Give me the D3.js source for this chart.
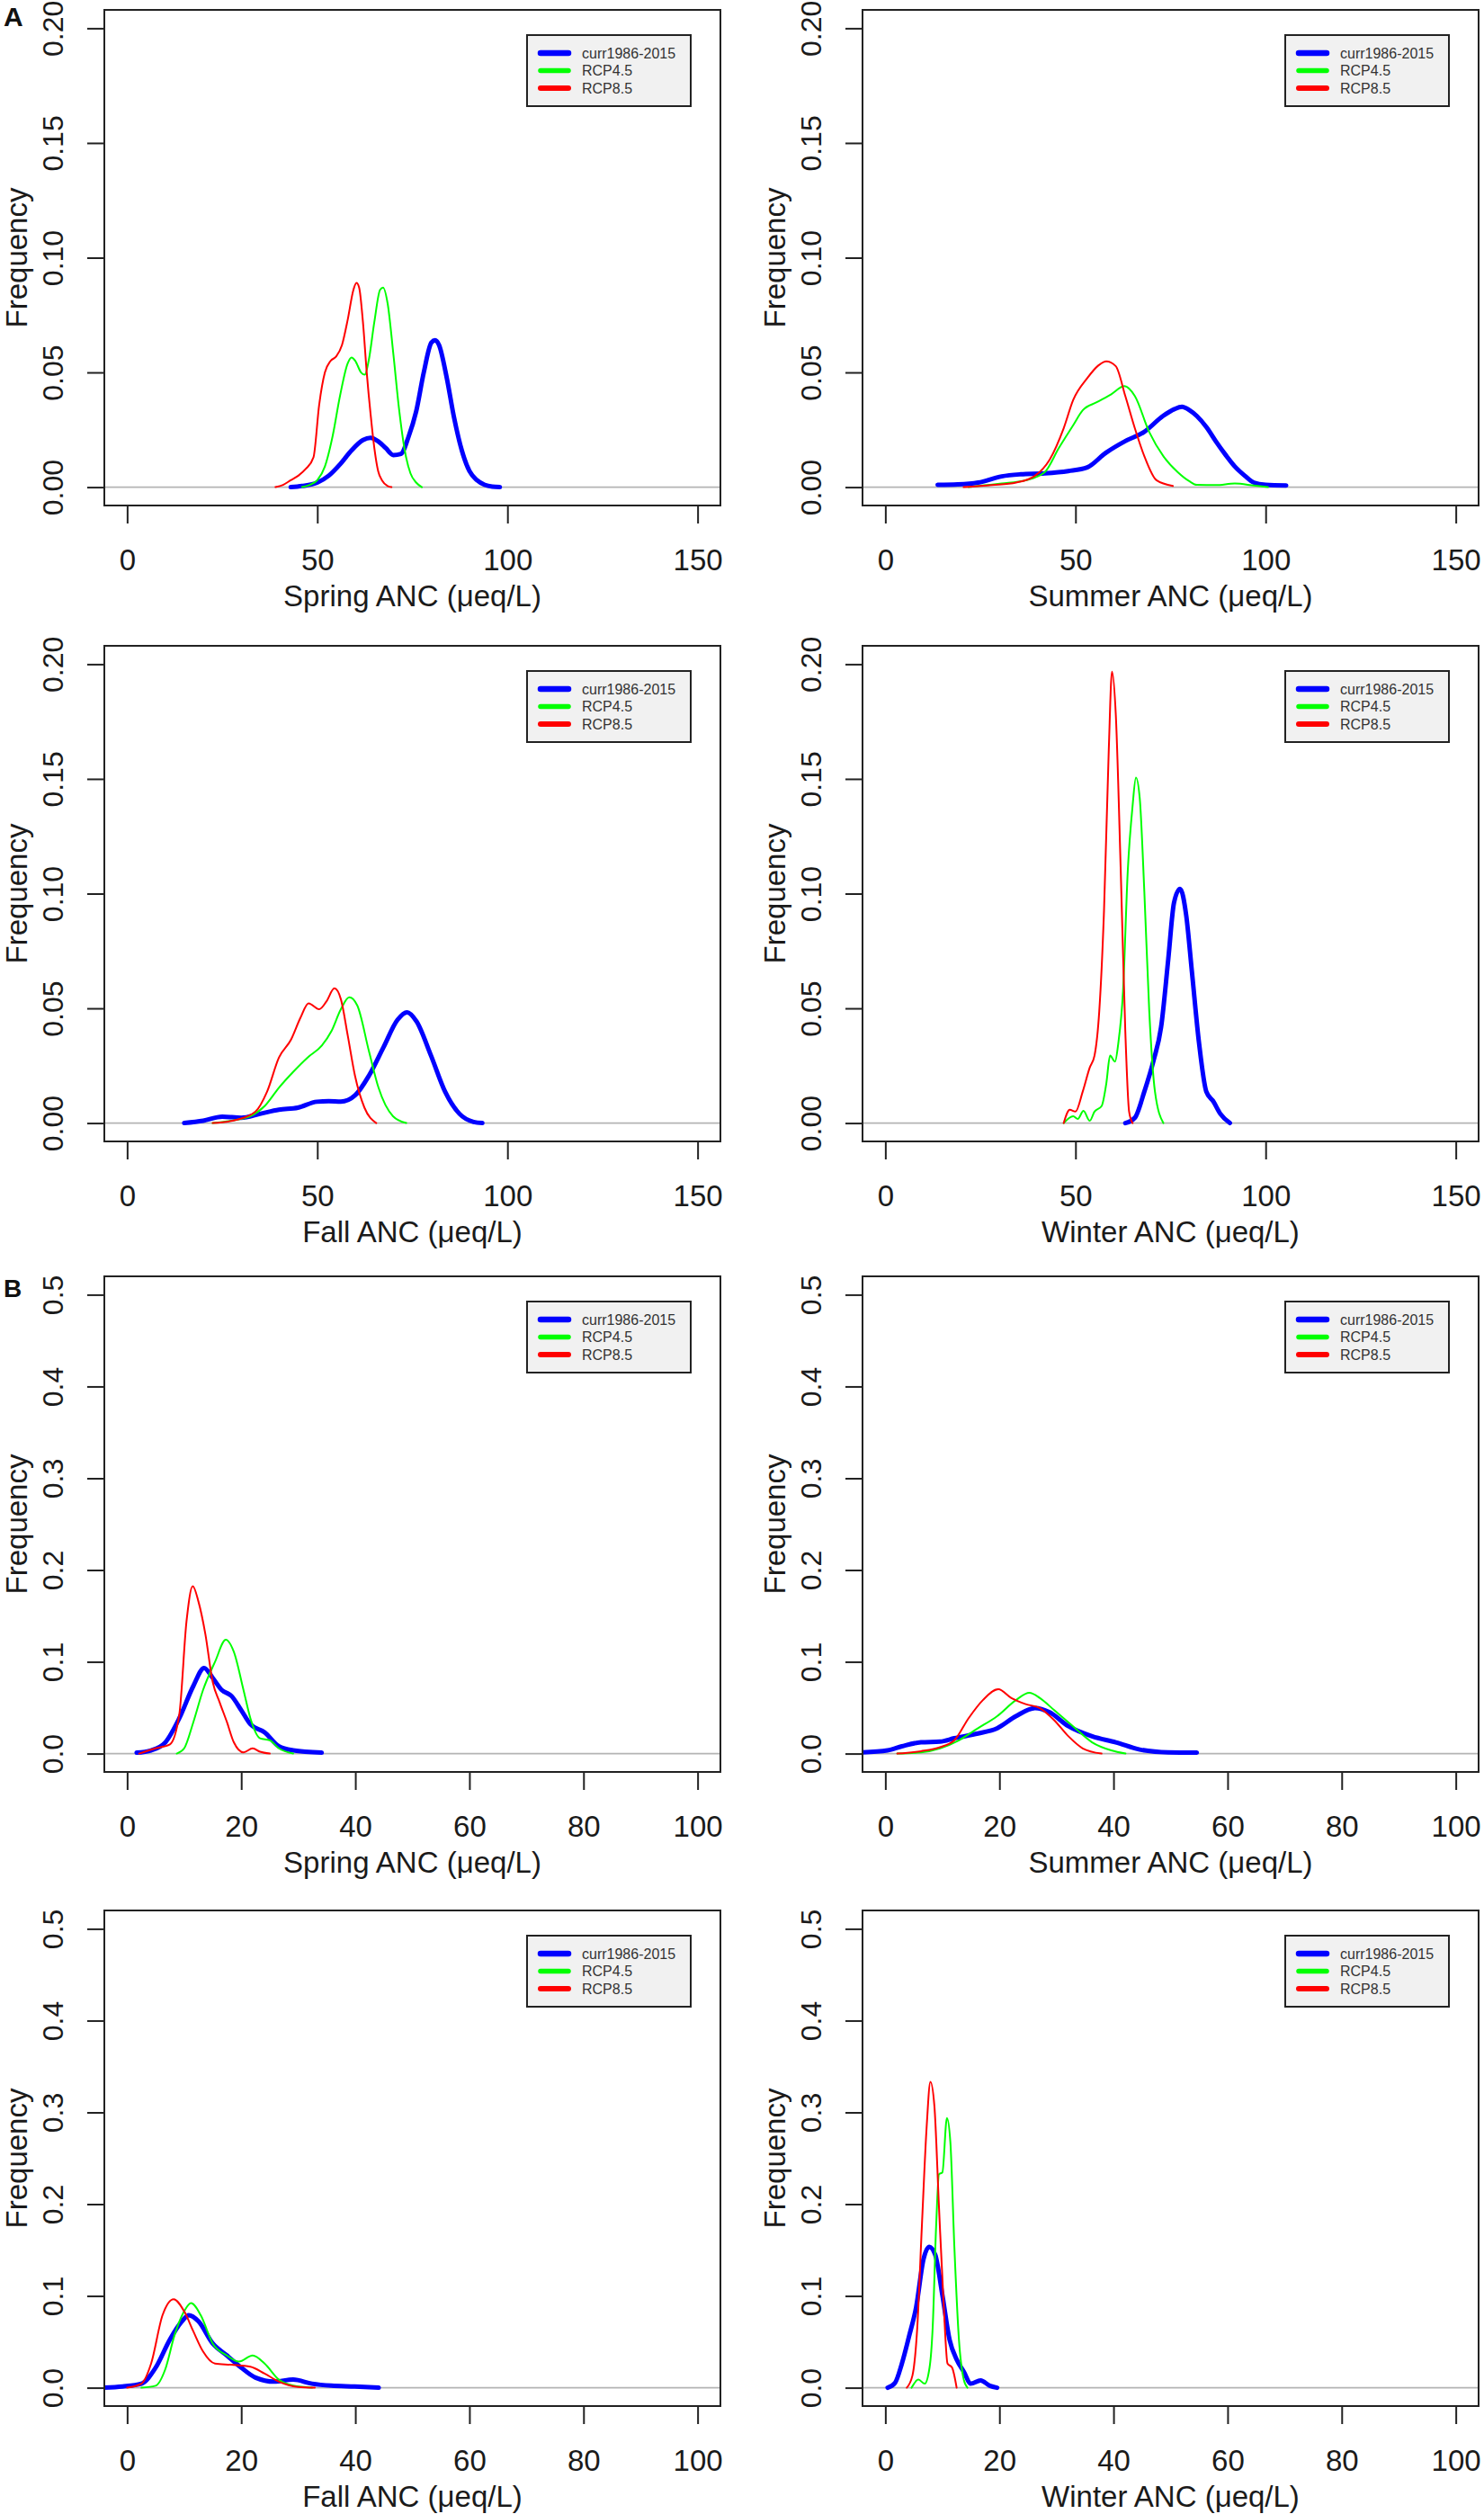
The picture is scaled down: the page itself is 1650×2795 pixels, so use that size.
<!DOCTYPE html>
<html><head><meta charset="utf-8">
<script src="https://cdn.jsdelivr.net/npm/d3@7"></script>
<style>
html,body{margin:0;padding:0;background:#fff;}
svg text{font-family:"Liberation Sans",Arial,Helvetica,sans-serif;}
</style></head>
<body>
<svg id="chart" width="1650" height="2795"></svg>
<script>
// ---------- data (x = ANC µeq/L, y = frequency / density) ----------
const seriesNames = ["curr1986-2015", "RCP4.5", "RCP8.5"];
const seriesColors = ["#0000ff", "#00ff00", "#ff0000"];

const xTicksA = [0, 50, 100, 150];
const yTicksA = [0.00, 0.05, 0.10, 0.15, 0.20];
const xTicksB = [0, 20, 40, 60, 80, 100];
const yTicksB = [0.0, 0.1, 0.2, 0.3, 0.4, 0.5];

const springA_curr = [[43,0],[46,0.0005],[50,0.002],[53,0.005],[56,0.01],[59,0.016],[62,0.0205],[64,0.0215],[66,0.020],[68,0.017],[70,0.014],[72,0.0145],[74,0.022],[76,0.033],[78,0.050],[80,0.063],[81,0.064],[82,0.062],[84,0.048],[86,0.030],[88,0.016],[90,0.007],[92,0.003],[94,0.001],[96,0.0002],[98,0]];
const springA_r45 = [[46,0],[48,0.001],[50,0.003],[52,0.009],[54,0.022],[56,0.040],[58,0.054],[59,0.0565],[60,0.055],[61.5,0.050],[62.5,0.049],[63.5,0.055],[65,0.072],[66.5,0.086],[67.3,0.087],[68.5,0.080],[70,0.058],[71.5,0.034],[73,0.016],[74.5,0.006],[76,0.002],[77.5,0]];
const springA_r85 = [[39,0],[41,0.001],[43,0.003],[45,0.005],[47,0.008],[49,0.013],[50.5,0.036],[52,0.050],[53.5,0.055],[55,0.057],[56.5,0.062],[58,0.073],[59.5,0.086],[60.3,0.089],[61,0.087],[62,0.072],[63,0.050],[64,0.032],[65,0.017],[66,0.007],[67,0.003],[68.5,0.0005],[69.5,0]];

const summerA_curr = [[13.75,0.001],[19,0.0012],[24.4,0.002],[30.6,0.0047],[35.6,0.0056],[41.9,0.006],[48.1,0.007],[53.1,0.0086],[58,0.015],[63,0.020],[68,0.024],[73,0.031],[76,0.034],[78,0.035],[80,0.0335],[81.9,0.031],[84.5,0.026],[86.9,0.020],[89.5,0.014],[91.9,0.009],[94.5,0.005],[96.9,0.002],[100,0.001],[105.4,0.0007]];
const summerA_r45 = [[21.9,0],[26,0.0008],[30.6,0.0016],[36.9,0.003],[41.9,0.0065],[45.6,0.017],[49.4,0.027],[51.9,0.0335],[55.6,0.037],[59.4,0.0405],[62.9,0.044],[65.6,0.0397],[69.4,0.024],[73.1,0.0135],[76.9,0.0065],[80,0.0025],[81.9,0.001],[86.9,0.0009],[91.9,0.0016],[96.9,0.0007],[100.6,0]];
const summerA_r85 = [[20.6,0],[28.1,0.0009],[34.4,0.002],[39.4,0.005],[43.1,0.0117],[46.9,0.0257],[49.4,0.038],[53.1,0.0475],[56,0.053],[58.1,0.0548],[60.6,0.0527],[63.1,0.0397],[65.6,0.0257],[68.1,0.0135],[71.3,0.003],[75.6,0.0005]];

const fallA_curr = [[15,0],[20,0.001],[25,0.0028],[30,0.0023],[34.9,0.004],[39.9,0.0058],[44.9,0.0067],[49.9,0.0093],[53,0.0095],[56.2,0.0093],[59.9,0.012],[63.6,0.0207],[67.4,0.033],[71.1,0.045],[73.6,0.0483],[76.1,0.0443],[79.9,0.0294],[83.6,0.0137],[87.4,0.004],[91.1,0.0005],[93.4,0]];
const fallA_r45 = [[22.5,0],[28.7,0.0014],[32.4,0.003],[36.2,0.0075],[39.9,0.0154],[43.7,0.0224],[47.4,0.0285],[51.2,0.0338],[53.7,0.040],[56.2,0.0496],[58.4,0.0548],[60.5,0.0513],[63.6,0.0312],[66.1,0.0154],[69.9,0.003],[73.4,0]];
const fallA_r85 = [[22.5,0],[28.7,0.0014],[33.7,0.0049],[36.8,0.0137],[39.9,0.0285],[43.1,0.0364],[45.6,0.046],[47.7,0.0522],[50.5,0.0496],[52.4,0.053],[54.5,0.0587],[56.2,0.054],[58,0.0382],[59.9,0.0207],[62.4,0.0067],[65.5,0]];

const winterA_curr = [[63.1,0],[65.6,0.0023],[68.1,0.0137],[70.6,0.0277],[72.5,0.0417],[74.4,0.0715],[75.9,0.096],[77.5,0.1021],[79.1,0.0907],[80.6,0.0662],[82.5,0.0347],[84.4,0.0137],[86.3,0.0093],[88.1,0.004],[90.6,0]];
const winterA_r45 = [[46.9,0],[49.4,0.003],[50.6,0.0018],[52.1,0.0053],[53.75,0.001],[55,0.005],[56.9,0.0075],[58.1,0.0172],[59.1,0.0294],[60.4,0.0268],[61.25,0.0347],[62.5,0.0574],[63.75,0.110],[65,0.138],[65.9,0.1506],[66.9,0.1415],[68.1,0.101],[69.4,0.0487],[70.9,0.0137],[73.1,0]];
const winterA_r85 = [[46.9,0],[48.5,0.0058],[50,0.005],[51.9,0.0137],[53.75,0.0242],[55,0.0294],[56.25,0.0487],[57.5,0.0925],[58.75,0.1625],[59.6,0.1967],[60.6,0.178],[61.9,0.110],[63.1,0.040],[64.1,0.005],[65,0]];

const springB_curr = [[1.66,0.001],[4.2,0.0035],[6.7,0.0123],[9.15,0.0386],[11.6,0.0736],[13.5,0.0933],[15,0.0824],[16.6,0.0692],[18.3,0.0627],[20,0.0473],[21.6,0.032],[24.1,0.0232],[26.6,0.0079],[29.1,0.0035],[34.1,0.001]];
const springB_r45 = [[8.7,0],[10,0.0057],[11.6,0.0342],[13.3,0.0692],[15.4,0.0999],[17.3,0.124],[18.7,0.1109],[20.4,0.0692],[21.6,0.0386],[23.3,0.0167],[25,0.0145],[26.6,0.0057],[29.1,0]];
const springB_r85 = [[2.1,0],[5,0.0057],[7.5,0.01],[9.15,0.043],[10.4,0.1437],[11.5,0.1823],[12.5,0.1656],[13.7,0.1306],[15,0.078],[16.2,0.0561],[17.5,0.0342],[18.7,0.0123],[20.4,0.0013],[22,0.0057],[23.3,0.002],[25,0]];

const summerB_curr = [[-4.17,0.0013],[0.4,0.0035],[2.9,0.0079],[6.25,0.0123],[9.6,0.013],[12.1,0.0167],[16.25,0.0219],[19.6,0.0276],[22.9,0.0408],[26.25,0.0495],[28.75,0.0451],[32.1,0.0298],[36.25,0.0188],[40.4,0.0123],[44.6,0.0044],[49.6,0.0013],[54.6,0.001]];
const summerB_r45 = [[2.1,0],[6.25,0.0013],[9.6,0.0057],[12.9,0.0145],[16.25,0.0276],[19.6,0.0408],[22.9,0.0583],[25.25,0.0662],[27.1,0.0605],[29.6,0.0473],[32.9,0.0298],[36.25,0.0123],[39.6,0.0035],[42.1,0]];
const summerB_r85 = [[2.1,0],[6.25,0.0026],[9.6,0.007],[12.1,0.0145],[14.6,0.0386],[17.1,0.0583],[19.8,0.0701],[22.1,0.0605],[24.6,0.0539],[27.1,0.0495],[29.6,0.0364],[32.1,0.0188],[34.6,0.0057],[37.9,0]];

const fallB_curr = [[-4.16,0],[-0.8,0.0013],[2.5,0.0044],[5,0.0219],[7.5,0.0526],[9.6,0.0724],[10.8,0.079],[12.5,0.0724],[15,0.0482],[17.5,0.0351],[20,0.0219],[22.5,0.011],[25.8,0.0066],[29.1,0.0088],[32.4,0.0044],[35.8,0.0022],[39.9,0.0013],[44.1,0]];
const fallB_r45 = [[2.5,0],[5,0.0022],[6.66,0.0197],[8.3,0.057],[10,0.0833],[11.2,0.0921],[12.9,0.079],[15,0.0482],[17.5,0.0351],[19.6,0.0285],[22,0.0351],[24.1,0.0263],[26.6,0.0088],[29.1,0.0022],[32.4,0]];
const fallB_r85 = [[0,0],[2.5,0.0044],[4.2,0.0263],[6.2,0.079],[8.15,0.0965],[10,0.0833],[11.6,0.0614],[13.3,0.0395],[15.4,0.0263],[18.3,0.025],[21.6,0.0228],[24.1,0.0154],[26.6,0.0066],[29.95,0.0009],[32.9,0]];

const winterB_curr = [[0.4,0],[1.7,0.0053],[2.9,0.0263],[4.2,0.057],[5.4,0.0877],[6.7,0.1404],[7.7,0.1535],[8.75,0.1447],[10,0.1009],[11.25,0.0526],[12.5,0.0307],[13.75,0.0175],[15,0.0044],[16.7,0.0079],[18.3,0.0022],[19.6,0]];
const winterB_r45 = [[4.6,0],[5.8,0.0088],[6.9,0.0044],[7.75,0.0219],[8.3,0.0658],[8.9,0.1754],[9.4,0.2325],[10,0.2346],[10.8,0.2939],[11.4,0.2675],[12.1,0.1535],[12.9,0.0526],[13.75,0.0088],[14.4,0]];
const winterB_r85 = [[3.75,0],[4.75,0.0132],[5.6,0.0658],[6.4,0.1754],[7.25,0.285],[7.9,0.3333],[8.6,0.307],[9.4,0.1974],[10.25,0.0877],[10.9,0.0263],[11.7,0.0219],[12.5,0]];

const panels = [
  {row:0, col:0, set:"A", label:"Spring ANC (μeq/L)", series:[springA_curr, springA_r45, springA_r85], tag:"A"},
  {row:0, col:1, set:"A", label:"Summer ANC (μeq/L)", series:[summerA_curr, summerA_r45, summerA_r85]},
  {row:1, col:0, set:"A", label:"Fall ANC (μeq/L)", series:[fallA_curr, fallA_r45, fallA_r85]},
  {row:1, col:1, set:"A", label:"Winter ANC (μeq/L)", series:[winterA_curr, winterA_r45, winterA_r85]},
  {row:2, col:0, set:"B", label:"Spring ANC (μeq/L)", series:[springB_curr, springB_r45, springB_r85], tag:"B"},
  {row:2, col:1, set:"B", label:"Summer ANC (μeq/L)", series:[summerB_curr, summerB_r45, summerB_r85]},
  {row:3, col:0, set:"B", label:"Fall ANC (μeq/L)", series:[fallB_curr, fallB_r45, fallB_r85]},
  {row:3, col:1, set:"B", label:"Winter ANC (μeq/L)", series:[winterB_curr, winterB_r45, winterB_r85]}
];

// ---------- layout ----------
const rowTops = [11, 718, 1419, 2124];
const colLefts = [116, 959];
const boxW = 685, boxH = 551;
const setCfg = {
  A: {xmax:150, ymax:0.20, xt:xTicksA, yt:yTicksA, yfmt:d3.format(".2f")},
  B: {xmax:100, ymax:0.5, xt:xTicksB, yt:yTicksB, yfmt:d3.format(".1f")}
};
const lineWidths = [5, 2, 2];
const legendLineWidths = [6.5, 5.5, 6];

const svg = d3.select("#chart");
const defs = svg.append("defs");

panels.forEach((p, i) => {
  const cfg = setCfg[p.set];
  const L = colLefts[p.col], T = rowTops[p.row];
  // R-style 4% axis extension
  const xPad = cfg.xmax * 0.04, yPad = cfg.ymax * 0.04;
  const x = d3.scaleLinear().domain([-xPad, cfg.xmax + xPad]).range([L, L + boxW]);
  const y = d3.scaleLinear().domain([-yPad, cfg.ymax + yPad]).range([T + boxH, T]);

  const g = svg.append("g");

  defs.append("clipPath").attr("id", "clip" + i)
    .append("rect").attr("x", L).attr("y", T).attr("width", boxW).attr("height", boxH);

  // zero baseline
  g.append("line")
    .attr("x1", L).attr("x2", L + boxW)
    .attr("y1", y(0)).attr("y2", y(0))
    .attr("stroke", "#b4b4b4").attr("stroke-width", 1.6);

  // density lines
  const line = d3.line().x(d => x(d[0])).y(d => y(d[1])).curve(d3.curveMonotoneX);
  const lg = g.append("g").attr("clip-path", "url(#clip" + i + ")");
  p.series.forEach((s, k) => {
    lg.append("path").datum(s)
      .attr("d", line)
      .attr("fill", "none")
      .attr("stroke", seriesColors[k])
      .attr("stroke-width", lineWidths[k])
      .attr("stroke-linejoin", "round")
      .attr("stroke-linecap", "round");
  });

  // box
  g.append("rect").attr("x", L).attr("y", T).attr("width", boxW).attr("height", boxH)
    .attr("fill", "none").attr("stroke", "#222").attr("stroke-width", 2);

  // x axis
  const xa = g.append("g").attr("transform", `translate(0,${T + boxH})`)
    .call(d3.axisBottom(x).tickValues(cfg.xt).tickSize(20).tickSizeOuter(0).tickPadding(0).tickFormat(d3.format("d")));
  xa.select(".domain").remove();
  xa.selectAll(".tick line").attr("stroke", "#222").attr("stroke-width", 2);
  xa.selectAll(".tick text")
    .attr("y", 72).attr("dy", 0)
    .attr("font-size", 33).attr("fill", "#1a1a1a")
    .attr("font-family", '"Liberation Sans",Arial,sans-serif');

  // y axis
  const ya = g.append("g").attr("transform", `translate(${L},0)`)
    .call(d3.axisLeft(y).tickValues(cfg.yt).tickSize(19).tickSizeOuter(0).tickFormat(cfg.yfmt));
  ya.select(".domain").remove();
  ya.selectAll(".tick line").attr("stroke", "#222").attr("stroke-width", 2);
  ya.selectAll(".tick text")
    .attr("x", null).attr("dy", null)
    .attr("transform", "translate(-58,0) rotate(-90)")
    .attr("text-anchor", "middle")
    .attr("y", 11.5)
    .attr("font-size", 32).attr("fill", "#1a1a1a")
    .attr("font-family", '"Liberation Sans",Arial,sans-serif');

  // axis titles
  g.append("text")
    .attr("x", x(cfg.xmax / 2)).attr("y", T + 663)
    .attr("text-anchor", "middle").attr("font-size", 33).attr("fill", "#1a1a1a")
    .text(p.label);
  g.append("text")
    .attr("transform", `translate(${L - 98},${T + boxH / 2}) rotate(-90)`)
    .attr("y", 12)
    .attr("text-anchor", "middle").attr("font-size", 33).attr("fill", "#1a1a1a")
    .text("Frequency");

  // legend
  const lgX = L + 470, lgY = T + 28;
  const leg = g.append("g");
  leg.append("rect").attr("x", lgX).attr("y", lgY).attr("width", 182).attr("height", 79)
    .attr("fill", "#f1f1f1").attr("stroke", "#222").attr("stroke-width", 2);
  seriesNames.forEach((nm, k) => {
    const yy = lgY + 20 + k * 19.5;
    leg.append("line").attr("x1", lgX + 15).attr("x2", lgX + 46)
      .attr("y1", yy).attr("y2", yy)
      .attr("stroke", seriesColors[k]).attr("stroke-width", legendLineWidths[k])
      .attr("stroke-linecap", "round");
    leg.append("text").attr("x", lgX + 61).attr("y", yy + 5.5)
      .attr("font-size", 16).attr("fill", "#333").text(nm);
  });

  if (p.tag) {
    svg.append("text").attr("x", 4).attr("y", T + (p.tag === "A" ? 18 : 23))
      .attr("font-size", p.tag === "A" ? 30 : 28).attr("font-weight", "bold").attr("fill", "#111")
      .text(p.tag);
  }
});
</script>
</body></html>
